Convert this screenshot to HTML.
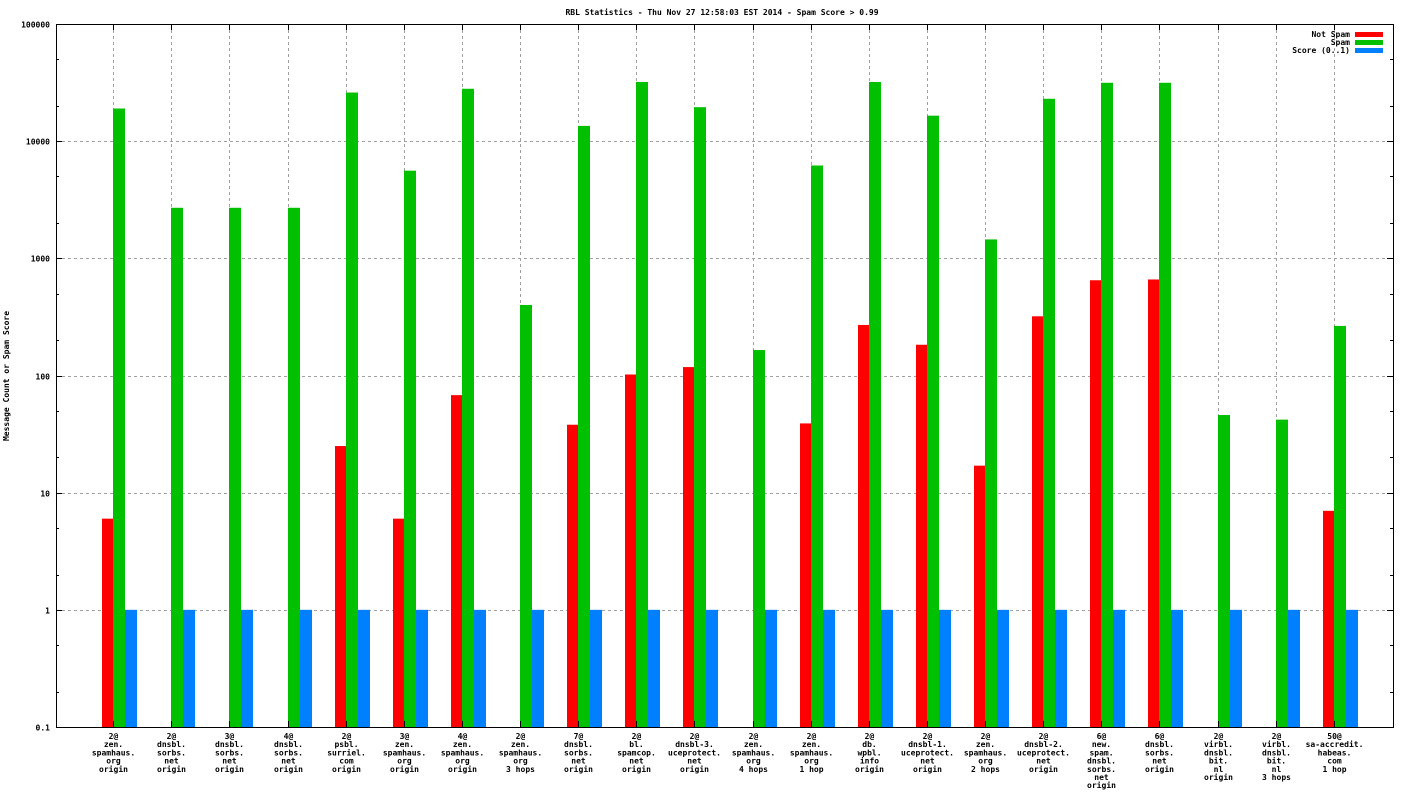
<!DOCTYPE html>
<html><head><meta charset="utf-8">
<style>
html,body{margin:0;padding:0;background:#fff;}
svg{display:block;font-family:"DejaVu Sans Mono","Liberation Mono",monospace;font-size:8px;font-weight:bold;}
</style></head>
<body>
<svg id="chart" width="1408" height="792" viewBox="0 0 1408 792" xmlns="http://www.w3.org/2000/svg">
<rect width="1408" height="792" fill="#fff"/>
<text x="722" y="15" text-anchor="middle">RBL Statistics - Thu Nov 27 12:58:03 EST 2014 - Spam Score &gt; 0.99</text>
<text transform="translate(9,376) rotate(-90)" text-anchor="middle">Message Count or Spam Score</text>
<g id="grid"></g><g id="bars"></g><g id="axes"></g><g id="labels"></g>
<g>
<text x="1350" y="37" text-anchor="end">Not Spam</text>
<rect x="1355" y="32" width="28" height="5" fill="#ff0000"/>
<text x="1350" y="45" text-anchor="end">Spam</text>
<rect x="1355" y="40" width="28" height="5" fill="#00c000"/>
<text x="1350" y="53" text-anchor="end">Score (0..1)</text>
<rect x="1355" y="48" width="28" height="5" fill="#0080ff"/>
</g>
</svg>
<script>
const categories = [
 ["2@","zen.","spamhaus.","org","origin"],
 ["2@","dnsbl.","sorbs.","net","origin"],
 ["3@","dnsbl.","sorbs.","net","origin"],
 ["4@","dnsbl.","sorbs.","net","origin"],
 ["2@","psbl.","surriel.","com","origin"],
 ["3@","zen.","spamhaus.","org","origin"],
 ["4@","zen.","spamhaus.","org","origin"],
 ["2@","zen.","spamhaus.","org","3 hops"],
 ["7@","dnsbl.","sorbs.","net","origin"],
 ["2@","bl.","spamcop.","net","origin"],
 ["2@","dnsbl-3.","uceprotect.","net","origin"],
 ["2@","zen.","spamhaus.","org","4 hops"],
 ["2@","zen.","spamhaus.","org","1 hop"],
 ["2@","db.","wpbl.","info","origin"],
 ["2@","dnsbl-1.","uceprotect.","net","origin"],
 ["2@","zen.","spamhaus.","org","2 hops"],
 ["2@","dnsbl-2.","uceprotect.","net","origin"],
 ["6@","new.","spam.","dnsbl.","sorbs.","net","origin"],
 ["6@","dnsbl.","sorbs.","net","origin"],
 ["2@","virbl.","dnsbl.","bit.","nl","origin"],
 ["2@","virbl.","dnsbl.","bit.","nl","3 hops"],
 ["50@","sa-accredit.","habeas.","com","1 hop"]
];
const notSpam = [6,null,null,null,25,6,68,null,38,102,118,null,39,270,183,17,320,650,660,null,null,7];
const spam = [19000,2700,2700,2700,26000,5600,28000,400,13500,32000,19500,165,6200,32000,16500,1450,23000,31500,31500,46,42,265];
const score = [1,1,1,1,1,1,1,1,1,1,1,1,1,1,1,1,1,1,1,1,1,1];
const yTicks = [0.1,1,10,100,1000,10000,100000];
const yTickLabels = ["0.1","1","10","100","1000","10000","100000"];

const NS="http://www.w3.org/2000/svg";
const L=56,R=1393,T=24,B=727;
const yMin=-1,yMax=5;
function y(v){return B-(Math.log10(v)-yMin)/(yMax-yMin)*(B-T);}
const step=(R-L)/23;
function x(i){return Math.round(L+step*(i+1)-1)+0.5;}
function mk(tag,attrs,parent){const e=document.createElementNS(NS,tag);for(const k in attrs)e.setAttribute(k,attrs[k]);parent.appendChild(e);return e;}
const grid=document.getElementById('grid'),bars=document.getElementById('bars'),axes=document.getElementById('axes'),labels=document.getElementById('labels');

yTicks.forEach((t,i)=>{
 const yy=Math.round(y(t))+0.5;
 if(i>0&&i<yTicks.length-1){const g=mk('line',{x1:L,x2:R,y1:yy,y2:yy,stroke:'#a0a0a0','stroke-dasharray':'3,3','stroke-width':1},grid);
 
 }
 const tx=mk('text',{x:L-6,y:yy+3,'text-anchor':'end'},axes);
 tx.textContent=yTickLabels[i];
 
 
 mk('line',{x1:L,x2:L+6,y1:yy,y2:yy,stroke:'#000'},axes);
 mk('line',{x1:R,x2:R-6,y1:yy,y2:yy,stroke:'#000'},axes);
 if(i<yTicks.length-1){[2,5].forEach(m=>{const my=Math.round(y(t*m))+0.5;
  mk('line',{x1:L,x2:L+3,y1:my,y2:my,stroke:'#000'},axes);
  mk('line',{x1:R,x2:R-3,y1:my,y2:my,stroke:'#000'},axes);});}
});

categories.forEach((c,i)=>{
 const cx=x(i);
 const vg=mk('line',{x1:cx,x2:cx,y1:T,y2:B,stroke:'#a0a0a0','stroke-dasharray':'3,3','stroke-width':1},grid);
 
 
 mk('line',{x1:cx,x2:cx,y1:B,y2:B-6,stroke:'#000'},axes);
 mk('line',{x1:cx,x2:cx,y1:T,y2:T+6,stroke:'#000'},axes);
 const base=cx-0.5;
 const series=[[notSpam,'#ff0000','bar-not-spam',-11],[spam,'#00c000','bar-spam',0],[score,'#0080ff','bar-score',12]];
 series.forEach(s=>{const v=s[0][i];if(v==null)return;
  const r=mk('rect',{x:base+s[3],y:y(v),width:12,height:B-y(v),fill:s[1]},bars);
  
  });
 c.forEach((line,j)=>{const t=mk('text',{x:cx,y:739+j*8.2,'text-anchor':'middle'},labels);
  t.textContent=line;
  
  });
});
const fr=mk('rect',{x:L+0.5,y:T+0.5,width:R-L,height:B-T,fill:'none',stroke:'#000','stroke-width':1},axes);


</script>
</body></html>
